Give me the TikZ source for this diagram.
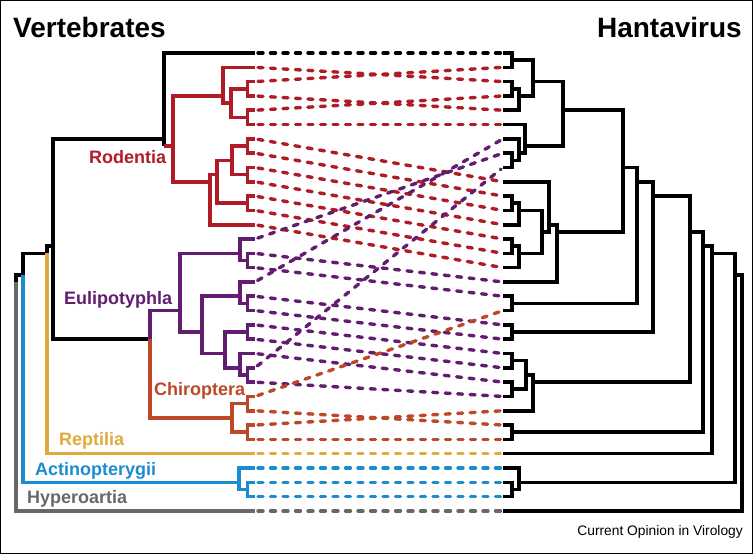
\documentclass[tikz,border=0pt]{standalone}
\usepackage{fontspec}
\setmainfont{Liberation Sans}
\definecolor{rodc}{RGB}{176,28,38}
\definecolor{eulc}{RGB}{98,28,112}
\definecolor{chic}{RGB}{188,72,40}
\definecolor{repc}{RGB}{224,170,60}
\definecolor{actc}{RGB}{26,140,210}
\definecolor{hypc}{RGB}{104,104,104}
\newcommand{\ttlfont}{\fontsize{28}{30}\selectfont\bfseries}
\newcommand{\lblfont}{\fontsize{18}{20}\selectfont\bfseries}
\newcommand{\credfont}{\fontsize{13.8}{15}\selectfont}
\newcommand{\mkpt}[3]{\coordinate (#1) at (#2,{53+14.31*(#3)});}
\tikzset{
  br/.style={line width=3.6pt},
  dsh/.style={line width=3.4pt, dash pattern=on 5pt off 7.5pt, line cap=round, shorten <=3pt, shorten >=2.5pt},
  lbl/.style={anchor=base west, inner sep=0pt, font=\lblfont}
}
\begin{document}
\begin{tikzpicture}[x=1pt,y=-1pt]
\useasboundingbox (0,0) rectangle (753,554);
\draw[line width=1.2pt] (0.6,0.6) rectangle (752.4,553.4);
% leaves
\foreach \i in {0,...,32}{
  \coordinate (L\i) at (255,{53+14.31*\i});
  \coordinate (R\i) at (503,{53+14.31*\i});
}
% left tree nodes
\mkpt{lroot}{16}{16}
\mkpt{lost}{23}{15.5}
\mkpt{lamn}{46.7}{14}
\mkpt{lmam}{52.7}{13.5}
\mkpt{leua}{164}{6}
\mkpt{lrod}{173}{6.5}
\mkpt{lrA}{223}{3}
\mkpt{lrAb}{231}{3.5}
\mkpt{lc23}{247.5}{2.5}
\mkpt{lc45}{247.5}{4.5}
\mkpt{lrB}{210}{9}
\mkpt{lrBa}{217}{8.5}
\mkpt{lrBb}{232}{7.5}
\mkpt{lc67}{247.5}{6.5}
\mkpt{lc89}{247.5}{8.5}
\mkpt{lc1011}{247.5}{10.5}
\mkpt{llau}{150}{20}
\mkpt{leul}{180}{18}
\mkpt{leA}{240}{14}
\mkpt{lc1415}{247.5}{14.5}
\mkpt{leB}{202}{19.5}
\mkpt{leBa}{240}{17}
\mkpt{lc1718}{247.5}{17.5}
\mkpt{leBb}{225}{21}
\mkpt{lc1920}{247.5}{19.5}
\mkpt{leBc}{240}{22}
\mkpt{lc2223}{247.5}{22.5}
\mkpt{lchi}{232}{25.5}
\mkpt{lc2425}{247.5}{24.5}
\mkpt{lc2627}{247.5}{26.5}
\mkpt{lact}{239}{30}
\mkpt{lc3031}{247.5}{30.5}
% right tree nodes
\mkpt{rroot}{742}{16}
\mkpt{rD}{735}{15.5}
\mkpt{rbl}{519}{30}
\mkpt{rc3031}{512}{30.5}
\mkpt{rE}{712}{14}
\mkpt{rF}{703}{13.5}
\mkpt{rc2627}{512}{26.5}
\mkpt{rG}{690}{12.5}
\mkpt{rH}{533}{23}
\mkpt{rHa}{526}{22.5}
\mkpt{rc2122}{512}{21.5}
\mkpt{rc2324}{512}{23.5}
\mkpt{rI}{653}{10}
\mkpt{rc1920}{512}{19.5}
\mkpt{rJ}{637}{9}
\mkpt{rc1718}{512}{17.5}
\mkpt{rK}{623}{8}
\mkpt{rL}{563}{4}
\mkpt{rA}{533}{2}
\mkpt{rc01}{512}{0.5}
\mkpt{rA2}{519}{3}
\mkpt{rc23}{512}{2.5}
\mkpt{rB}{525}{6.5}
\mkpt{rB2}{519}{7}
\mkpt{rc78}{512}{7.5}
\mkpt{rM}{557}{12.5}
\mkpt{rN}{549}{12}
\mkpt{rO}{542}{12.5}
\mkpt{rC1}{519}{11}
\mkpt{rc1011}{512}{10.5}
\mkpt{rC2}{519}{14}
\mkpt{rc1314}{512}{13.5}
% dashed associations
\foreach \a/\b/\c in {0/0/black,1/2/rodc,2/1/rodc,3/4/rodc,4/3/rodc,5/5/rodc,
  6/9/rodc,7/10/rodc,8/11/rodc,9/12/rodc,10/13/rodc,11/14/rodc,12/15/rodc,
  13/7/eulc,14/16/eulc,15/17/eulc,16/6/eulc,17/19/eulc,18/20/eulc,19/21/eulc,
  20/22/eulc,21/23/eulc,22/8/eulc,23/24/eulc,
  24/18/chic,25/26/chic,26/25/chic,27/27/chic,28/28/repc,
  29/29/actc,30/30/actc,31/31/actc,32/32/hypc}
  {\draw[dsh,\c] (L\a) -- (R\b);}
% left tree edges
\foreach \p/\q in {lroot/lost,lost/lamn,lamn/lmam,lmam/leua,lmam/llau,leua/L0}
  {\draw[br,black] (\p) |- (\q);}
\draw[br,black] (leua) -- (leua |- lrod);
\draw[br,rodc] (leua |- lrod) -- (lrod);
\draw[br,hypc] (lroot) |- (L32);
\draw[br,repc] (lamn) |- (L28);
\foreach \p/\q in {lost/lact,lact/L29,lact/lc3031,lc3031/L30,lc3031/L31}
  {\draw[br,actc] (\p) |- (\q);}
\foreach \p/\q in {lrod/lrA,lrod/lrB,lrA/L1,lrA/lrAb,lrAb/lc23,lrAb/lc45,lc23/L2,lc23/L3,
  lc45/L4,lc45/L5,lrB/lrBa,lrB/L12,lrBa/lrBb,lrBa/lc1011,lrBb/lc67,lrBb/lc89,
  lc67/L6,lc67/L7,lc89/L8,lc89/L9,lc1011/L10,lc1011/L11}
  {\draw[br,rodc] (\p) |- (\q);}
\foreach \p/\q in {llau/leul,leul/leA,leul/leB,leA/L13,leA/lc1415,lc1415/L14,lc1415/L15,
  leB/leBa,leB/leBb,leBa/L16,leBa/lc1718,lc1718/L17,lc1718/L18,leBb/lc1920,leBb/leBc,
  lc1920/L19,lc1920/L20,leBc/L21,leBc/lc2223,lc2223/L22,lc2223/L23}
  {\draw[br,eulc] (\p) |- (\q);}
\foreach \p/\q in {llau/lchi,lchi/lc2425,lchi/lc2627,lc2425/L24,lc2425/L25,lc2627/L26,lc2627/L27}
  {\draw[br,chic] (\p) |- (\q);}
% right tree edges
\foreach \p/\q in {rroot/rD,rroot/R32,rD/rE,rD/rbl,rbl/R29,rbl/rc3031,rc3031/R30,rc3031/R31,
  rE/rF,rE/R28,rF/rG,rF/rc2627,rc2627/R26,rc2627/R27,rG/rI,rG/rH,rH/rHa,rH/R25,
  rHa/rc2122,rHa/rc2324,rc2122/R21,rc2122/R22,rc2324/R23,rc2324/R24,rI/rJ,rI/rc1920,
  rc1920/R19,rc1920/R20,rJ/rK,rJ/rc1718,rc1718/R17,rc1718/R18,rK/rL,rK/rM,rL/rA,rL/rB,
  rA/rc01,rA/rA2,rc01/R0,rc01/R1,rA2/rc23,rA2/R4,rc23/R2,rc23/R3,rB/R5,rB/rB2,rB2/R6,
  rB2/rc78,rc78/R7,rc78/R8,rM/rN,rM/R16,rN/R9,rN/rO,rO/rC1,rO/rC2,rC1/rc1011,rC1/R12,
  rc1011/R10,rc1011/R11,rC2/rc1314,rC2/R15,rc1314/R13,rc1314/R14}
  {\draw[br,black] (\p) |- (\q);}
% labels
\node[anchor=base west,inner sep=0pt,font=\ttlfont] (tv) at (13,37) {Vertebrates};
\node[anchor=base east,inner sep=0pt,font=\ttlfont] (th) at (742,37) {Hantavirus};
\node[lbl,text=rodc] (nrod) at (89,163) {Rodentia};
\node[lbl,text=eulc] (neul) at (64,304) {Eulipotyphla};
\node[lbl,text=chic] (nchi) at (154,395) {Chiroptera};
\node[lbl,text=repc] (nrep) at (59,445) {Reptilia};
\node[lbl,text=actc] (nact) at (35,475) {Actinopterygii};
\node[lbl,text=hypc] (nhyp) at (27,503) {Hyperoartia};
\node[anchor=base east,inner sep=0pt,font=\credfont] (cred) at (743,535) {Current Opinion in Virology};
\end{tikzpicture}
\end{document}
